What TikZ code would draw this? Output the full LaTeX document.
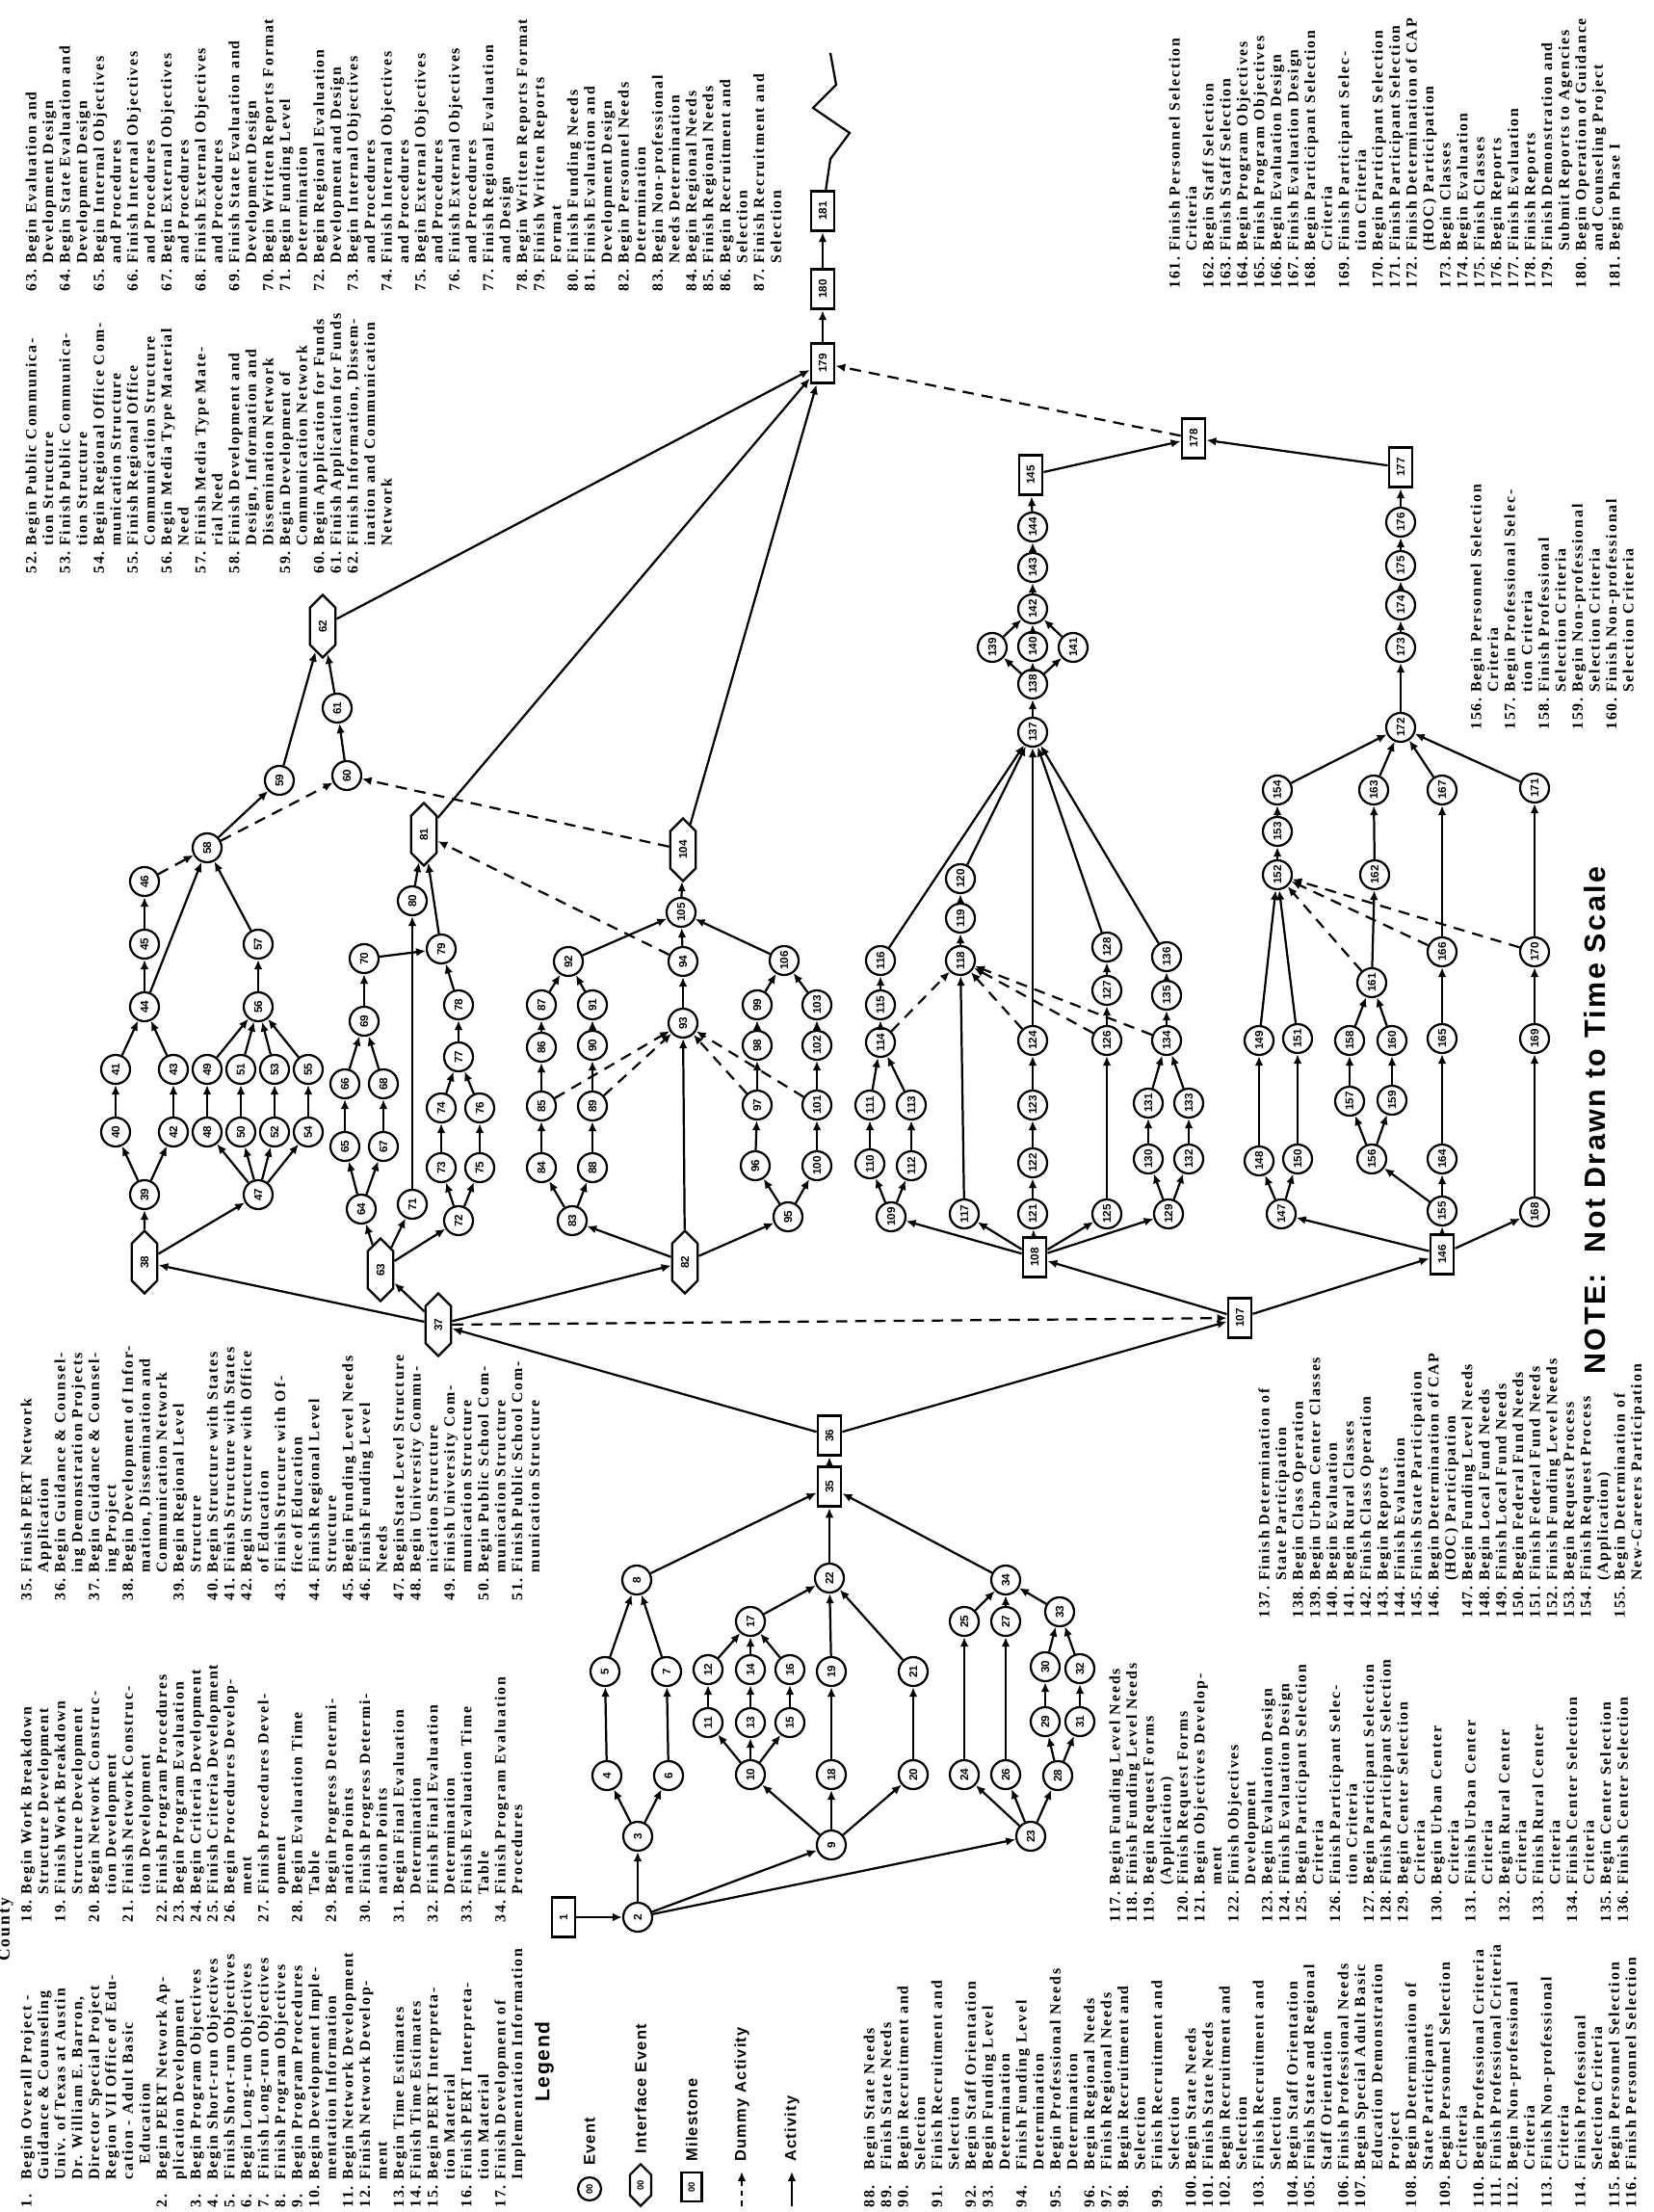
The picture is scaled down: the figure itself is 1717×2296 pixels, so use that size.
\documentclass[tikz,border=0pt]{standalone}
\usepackage{fontspec}
\setmainfont{Liberation Serif}
\setsansfont{Liberation Sans}
\newfontfamily\listfamily[LetterSpace=12]{Liberation Serif}
\newfontfamily\legfamily[LetterSpace=8]{Liberation Sans}
\usetikzlibrary{arrows.meta,positioning,shapes.symbols}

\tikzset{
  ev/.style={circle, draw, line width=1.9pt, minimum size=0.9cm, inner sep=0pt, rotate=90, font=\sffamily\bfseries\fontsize{10}{10}\selectfont},
  ifc/.style={signal, signal to=east and west, draw, line width=1.9pt, minimum width=1.95cm, minimum height=0.8cm, inner sep=0pt, rotate=90, font=\sffamily\bfseries\fontsize{10}{10}\selectfont},
  mile/.style={rectangle, draw, line width=2.4pt, minimum width=1.25cm, minimum height=0.72cm, inner sep=0pt, rotate=90, font=\sffamily\bfseries\fontsize{10}{10}\selectfont},
  act/.style={line width=1.9pt, -{Latex[length=3mm,width=2.6mm]}},
  dum/.style={act, dash pattern=on 10pt off 7pt},
  tlist/.style={rotate=90, anchor=north west, inner sep=0pt, font=\listfamily\bfseries\fontsize{13.5}{15}\selectfont},
  legtext/.style={rotate=90, anchor=west, inner sep=0pt, font=\legfamily\bfseries\fontsize{14}{14}\selectfont},
}

\begin{document}
\begin{tikzpicture}[x=0.03cm, y=-0.03cm]
\useasboundingbox (0,0) rectangle (1717,2296);

% ---------- lists of events ----------
\node[rotate=90, anchor=west, inner sep=0pt, font=\listfamily\bfseries\fontsize{15}{15}\selectfont] (hdr) at (6,2036) {County};

\node[tlist] (list1) at (20,2292) {\begin{tabular}{@{}l@{\hspace{0.35em}}l@{}}
1. & Begin Overall Project -\\
 & Guidance \& Counseling\\
 & Univ. of Texas at Austin\\
 & Dr. William E. Barron,\\
 & Director Special Project\\
 & Region VII Office of Edu-\\
 & cation - Adult Basic\\
 & \quad Education\\
2. & Begin PERT Network Ap-\\
 & plication Development\\
3. & Begin Program Objectives\\
4. & Begin Short-run Objectives\\
5. & Finish Short-run Objectives\\
6. & Begin Long-run Objectives\\
7. & Finish Long-run Objectives\\
8. & Finish Program Objectives\\
9. & Begin Program Procedures\\
10. & Begin Development Imple-\\
 & mentation Information\\
11. & Begin Network Development\\
12. & Finish Network Develop-\\
 & ment\\
13. & Begin Time Estimates\\
14. & Finish Time Estimates\\
15. & Begin PERT Interpreta-\\
 & tion Material\\
16. & Finish PERT Interpreta-\\
 & tion Material\\
17. & Finish Development of\\
 & Implementation Information
\end{tabular}};

\node[tlist] (list2) at (20,1996) {\begin{tabular}{@{}l@{\hspace{0.35em}}l@{}}
18. & Begin Work Breakdown\\
 & Structure Development\\
19. & Finish Work Breakdown\\
 & Structure Development\\
20. & Begin Network Construc-\\
 & tion Development\\
21. & Finish Network Construc-\\
 & tion Development\\
22. & Finish Program Procedures\\
23. & Begin Program Evaluation\\
24. & Begin Criteria Development\\
25. & Finish Criteria Development\\
26. & Begin Procedures Develop-\\
 & ment\\
27. & Finish Procedures Devel-\\
 & opment\\
28. & Begin Evaluation Time\\
 & Table\\
29. & Begin Progress Determi-\\
 & nation Points\\
30. & Finish Progress Determi-\\
 & nation Points\\
31. & Begin Final Evaluation\\
 & Determination\\
32. & Finish Final Evaluation\\
 & Determination\\
33. & Finish Evaluation Time\\
 & Table\\
34. & Finish Program Evaluation\\
 & Procedures
\end{tabular}};

\node[tlist] (list3) at (20,1662) {\begin{tabular}{@{}l@{\hspace{0.35em}}l@{}}
35. & Finish PERT Network\\
 & Application\\
36. & Begin Guidance \& Counsel-\\
 & ing Demonstration Projects\\
37. & Begin Guidance \& Counsel-\\
 & ing Project\\
38. & Begin Development of Infor-\\
 & mation, Dissemination and\\
 & Communication Network\\
39. & Begin Regional Level\\
 & Structure\\
40. & Begin Structure with States\\
41. & Finish Structure with States\\
42. & Begin Structure with Office\\
 & of Education\\
43. & Finish Strucure with Of-\\
 & fice of Education\\
44. & Finish Regional Level\\
 & Structure\\
45. & Begin Funding Level Needs\\
46. & Finish Funding Level\\
 & Needs\\
47. & BeginState Level Structure\\
48. & Begin University Commu-\\
 & nication Structure\\
49. & Finish University Com-\\
 & munication Structure\\
50. & Begin Public School Com-\\
 & munication Structure\\
51. & Finish Public School Com-\\
 & munication Structure
\end{tabular}};

\node[tlist] (list4) at (25,596) {\begin{tabular}{@{}l@{\hspace{0.35em}}l@{}}
52. & Begin Public Communica-\\
 & tion Structure\\
53. & Finish Public Communica-\\
 & tion Structure\\
54. & Begin Regional Office Com-\\
 & munication Structure\\
55. & Finish Regional Office\\
 & Communication Structure\\
56. & Begin Media Type Material\\
 & Need\\
57. & Finish Media Type Mate-\\
 & rial Need\\
58. & Finish Development and\\
 & Design, Information and\\
 & Dissemination Network\\
59. & Begin Development of\\
 & Communication Network\\
60. & Begin Application for Funds\\
61. & Finish Application for Funds\\
62. & Finish Information, Dissem-\\
 & ination and Communication\\
 & Network
\end{tabular}};

\node[tlist] (list5) at (25,303) {\begin{tabular}{@{}l@{\hspace{0.35em}}l@{}}
63. & Begin Evaluation and\\
 & Development Design\\
64. & Begin State Evaluation and\\
 & Development Design\\
65. & Begin Internal Objectives\\
 & and Procedures\\
66. & Finish Internal Objectives\\
 & and Procedures\\
67. & Begin External Objectives\\
 & and Procedures\\
68. & Finish External Objectives\\
 & and Procedures\\
69. & Finish State Evaluation and\\
 & Development Design\\
70. & Begin Written Reports Format\\
71. & Begin Funding Level\\
 & Determination\\
72. & Begin Regional Evaluation\\
 & Development and Design\\
73. & Begin Internal Objectives\\
 & and Procedures\\
74. & Finish Internal Objectives\\
 & and Procedures\\
75. & Begin External Objectives\\
 & and Procedures\\
76. & Finish External Objectives\\
 & and Procedures\\
77. & Finish Regional Evaluation\\
 & and Design\\
78. & Begin Written Reports Format\\
79. & Finish Written Reports\\
 & Format\\
80. & Finish Funding Needs\\
81. & Finish Evaluation and\\
 & Development Design\\
82. & Begin Personnel Needs\\
 & Determination\\
83. & Begin Non-professional\\
 & Needs Determination\\
84. & Begin Regional Needs\\
85. & Finish Regional Needs\\
86. & Begin Recruitment and\\
 & Selection\\
87. & Finish Recruitment and\\
 & Selection
\end{tabular}};

\node[tlist] (list6) at (895,2292) {\begin{tabular}{@{}l@{\hspace{0.35em}}l@{}}
88. & Begin State Needs\\
89. & Finish State Needs\\
90. & Begin Recruitment and\\
 & Selection\\
91. & Finish Recruitment and\\
 & Selection\\
92. & Begin Staff Orientation\\
93. & Begin Funding Level\\
 & Determination\\
94. & Finish Funding Level\\
 & Determination\\
95. & Begin Professional Needs\\
 & Determination\\
96. & Begin Regional Needs\\
97. & Finish Regional Needs\\
98. & Begin Recruitment and\\
 & Selection\\
99. & Finish Recruitment and\\
 & Selection\\
100. & Begin State Needs\\
101. & Finish State Needs\\
102. & Begin Recruitment and\\
 & Selection\\
103. & Finish Recruitment and\\
 & Selection\\
104. & Begin Staff Orientation\\
105. & Finish State and Regional\\
 & Staff Orientation\\
106. & Finish Professional Needs\\
107. & Begin Special Adult Basic\\
 & Education Demonstration\\
 & Project\\
108. & Begin Determination of\\
 & State Participants\\
109. & Begin Personnel Selection\\
 & Criteria\\
110. & Begin Professional Criteria\\
111. & Finish Professional Criteria\\
112. & Begin Non-professional\\
 & Criteria\\
113. & Finish Non-professional\\
 & Criteria\\
114. & Finish Professional\\
 & Selection Criteria\\
115. & Begin Personnel Selection\\
116. & Finish Personnel Selection
\end{tabular}};

\node[tlist] (list7) at (1150,1996) {\begin{tabular}{@{}l@{\hspace{0.35em}}l@{}}
117. & Begin Funding Level Needs\\
118. & Finish Funding Level Needs\\
119. & Begin Request Forms\\
 & (Application)\\
120. & Finish Request Forms\\
121. & Begin Objectives Develop-\\
 & ment\\
122. & Finish Objectives\\
 & Development\\
123. & Begin Evaluation Design\\
124. & Finish Evaluation Design\\
125. & Begin Participant Selection\\
 & Criteria\\
126. & Finish Participant Selec-\\
 & tion Criteria\\
127. & Begin Participant Selection\\
128. & Finish Participant Selection\\
129. & Begin Center Selection\\
 & Criteria\\
130. & Begin Urban Center\\
 & Criteria\\
131. & Finish Urban Center\\
 & Criteria\\
132. & Begin Rural Center\\
 & Criteria\\
133. & Finish Rural Center\\
 & Criteria\\
134. & Finish Center Selection\\
 & Criteria\\
135. & Begin Center Selection\\
136. & Finish Center Selection
\end{tabular}};

\node[tlist] (list8) at (1305,1680) {\begin{tabular}{@{}l@{\hspace{0.35em}}l@{}}
137. & Finish Determination of\\
 & State Participation\\
138. & Begin Class Operation\\
139. & Begin Urban Center Classes\\
140. & Begin Evaluation\\
141. & Begin Rural Classes\\
142. & Finish Class Operation\\
143. & Begin Reports\\
144. & Finish Evaluation\\
145. & Finish State Participation\\
146. & Begin Determination of CAP\\
 & (HOC) Participation\\
147. & Begin Funding Level Needs\\
148. & Begin Local Fund Needs\\
149. & Finish Local Fund Needs\\
150. & Begin Federal Fund Needs\\
151. & Finish Federal Fund Needs\\
152. & Finish Funding Level Needs\\
153. & Begin Request Process\\
154. & Finish Request Process\\
 & (Application)\\
155. & Begin Determination of\\
 & New-Careers Participation
\end{tabular}};

\node[tlist] (list9) at (1525,758) {\begin{tabular}{@{}l@{\hspace{0.35em}}l@{}}
156. & Begin Personnel Selection\\
 & Criteria\\
157. & Begin Professional Selec-\\
 & tion Criteria\\
158. & Finish Professional\\
 & Selection Criteria\\
159. & Begin Non-professional\\
 & Selection Criteria\\
160. & Finish Non-professional\\
 & Selection Criteria
\end{tabular}};

\node[tlist] (list10) at (1212,300) {\begin{tabular}{@{}l@{\hspace{0.35em}}l@{}}
161. & Finish Personnel Selection\\
 & Criteria\\
162. & Begin Staff Selection\\
163. & Finish Staff Selection\\
164. & Begin Program Objectives\\
165. & Finish Program Objectives\\
166. & Begin Evaluation Design\\
167. & Finish Evaluation Design\\
168. & Begin Participant Selection\\
 & Criteria\\
169. & Finish Participant Selec-\\
 & tion Criteria\\
170. & Begin Participant Selection\\
171. & Finish Participant Selection\\
172. & Finish Determination of CAP\\
 & (HOC) Participation\\
173. & Begin Classes\\
174. & Begin Evaluation\\
175. & Finish Classes\\
176. & Begin Reports\\
177. & Finish Evaluation\\
178. & Finish Reports\\
179. & Finish Demonstration and\\
 & Submit Reports to Agencies\\
180. & Begin Operation of Guidance\\
 & and Counseling Project\\
181. & Begin Phase I
\end{tabular}};

% ---------- legend ----------
\node[rotate=90, inner sep=0pt, font=\legfamily\bfseries\fontsize{18}{18}\selectfont] (leg) at (565,2140) {Legend};
\node[ev, minimum size=0.72cm, font=\sffamily\bfseries\fontsize{8}{8}\selectfont] (lgev) at (612,2272) {00};
\node[legtext] (lgevt) at (612,2248) {Event};
\node[ifc, minimum width=1.3cm, minimum height=0.66cm, font=\sffamily\bfseries\fontsize{8}{8}\selectfont] (lgif) at (665,2268) {00};
\node[legtext] (lgift) at (665,2236) {Interface Event};
\node[mile, minimum width=0.9cm, minimum height=0.62cm, font=\sffamily\bfseries\fontsize{8}{8}\selectfont] (lgms) at (718,2270) {00};
\node[legtext] (lgmst) at (718,2244) {Milestone};
\coordinate (lgd0) at (770,2290);
\coordinate (lgd1) at (770,2254);
\draw[dum, dash pattern=on 5pt off 4pt] (lgd0) -- (lgd1);
\node[legtext] (lgdt) at (770,2244) {Dummy Activity};
\coordinate (lga0) at (822,2290);
\coordinate (lga1) at (822,2254);
\draw[act] (lga0) -- (lga1);
\node[legtext] (lgat) at (822,2244) {Activity};

\node[rotate=90, inner sep=0pt, font=\legfamily\bfseries\fontsize{26}{26}\selectfont] (note) at (1656,1163) {NOTE:\ \ Not Drawn to Time Scale};

% ---------- events: first block ----------
\node[mile] (e1) at (585,1990) {1};
\node[ev] (e2) at (662,1990) {2};
\node[ev] (e3) at (662,1906) {3};
\node[ev] (e4) at (630,1843) {4};
\node[ev] (e5) at (628,1735) {5};
\node[ev] (e6) at (694,1843) {6};
\node[ev] (e7) at (692,1735) {7};
\node[ev] (e8) at (661,1640) {8};
\node[ev] (e9) at (863,1915) {9};
\node[ev] (e10) at (779,1842) {10};
\node[ev] (e11) at (735,1788) {11};
\node[ev] (e12) at (735,1733) {12};
\node[ev] (e13) at (779,1788) {13};
\node[ev] (e14) at (779,1733) {14};
\node[ev] (e15) at (820,1788) {15};
\node[ev] (e16) at (820,1733) {16};
\node[ev] (e17) at (779,1683) {17};
\node[ev] (e18) at (863,1842) {18};
\node[ev] (e19) at (863,1735) {19};
\node[ev] (e20) at (948,1842) {20};
\node[ev] (e21) at (948,1735) {21};
\node[ev] (e22) at (861,1638) {22};
\node[ev] (e23) at (1070,1906) {23};
\node[ev] (e24) at (1001,1842) {24};
\node[ev] (e25) at (1001,1683) {25};
\node[ev] (e26) at (1044,1842) {26};
\node[ev] (e27) at (1044,1683) {27};
\node[ev] (e28) at (1098,1843) {28};
\node[ev] (e29) at (1085,1787) {29};
\node[ev] (e30) at (1085,1730) {30};
\node[ev] (e31) at (1121,1787) {31};
\node[ev] (e32) at (1121,1732) {32};
\node[ev] (e33) at (1100,1673) {33};
\node[ev] (e34) at (1044,1640) {34};
\node[mile] (e35) at (861,1543) {35};
\node[mile] (e36) at (861,1490) {36};
\node[ifc] (e37) at (455,1375) {37};
\node[mile] (e107) at (1287,1368) {107};

% ---------- events: information network ----------
\node[ifc] (e38) at (150,1310) {38};
\node[ev] (e39) at (150,1240) {39};
\node[ev] (e40) at (120,1175) {40};
\node[ev] (e41) at (120,1110) {41};
\node[ev] (e42) at (180,1175) {42};
\node[ev] (e43) at (180,1110) {43};
\node[ev] (e44) at (150,1045) {44};
\node[ev] (e45) at (150,980) {45};
\node[ev] (e46) at (150,915) {46};
\node[ev] (e47) at (268,1240) {47};
\node[ev] (e48) at (215,1175) {48};
\node[ev] (e49) at (215,1110) {49};
\node[ev] (e50) at (250,1175) {50};
\node[ev] (e51) at (250,1110) {51};
\node[ev] (e52) at (285,1175) {52};
\node[ev] (e53) at (285,1110) {53};
\node[ev] (e54) at (320,1175) {54};
\node[ev] (e55) at (320,1110) {55};
\node[ev] (e56) at (268,1045) {56};
\node[ev] (e57) at (268,980) {57};
\node[ev] (e58) at (215,880) {58};
\node[ev] (e59) at (290,810) {59};
\node[ev] (e60) at (360,805) {60};
\node[ev] (e61) at (350,735) {61};
\node[ifc] (e62) at (335,650) {62};

% ---------- events: evaluation design ----------
\node[ifc] (e63) at (395,1318) {63};
\node[ev] (e64) at (375,1255) {64};
\node[ev] (e65) at (358,1190) {65};
\node[ev] (e66) at (358,1125) {66};
\node[ev] (e67) at (398,1190) {67};
\node[ev] (e68) at (398,1125) {68};
\node[ev] (e69) at (378,1060) {69};
\node[ev] (e70) at (378,995) {70};
\node[ev] (e71) at (428,1250) {71};
\node[ev] (e72) at (476,1267) {72};
\node[ev] (e73) at (458,1212) {73};
\node[ev] (e74) at (458,1150) {74};
\node[ev] (e75) at (498,1212) {75};
\node[ev] (e76) at (498,1150) {76};
\node[ev] (e77) at (476,1097) {77};
\node[ev] (e78) at (476,1043) {78};
\node[ev] (e79) at (458,985) {79};
\node[ev] (e80) at (428,935) {80};
\node[ifc] (e81) at (440,866) {81};

% ---------- events: personnel needs ----------
\node[ifc] (e82) at (711,1310) {82};
\node[ev] (e83) at (594,1267) {83};
\node[ev] (e84) at (562,1212) {84};
\node[ev] (e85) at (562,1148) {85};
\node[ev] (e86) at (562,1087) {86};
\node[ev] (e87) at (562,1043) {87};
\node[ev] (e88) at (615,1212) {88};
\node[ev] (e89) at (615,1148) {89};
\node[ev] (e90) at (615,1085) {90};
\node[ev] (e91) at (615,1043) {91};
\node[ev] (e92) at (590,998) {92};
\node[ev] (e93) at (709,1062) {93};
\node[ev] (e94) at (709,998) {94};
\node[ev] (e95) at (818,1263) {95};
\node[ev] (e96) at (784,1210) {96};
\node[ev] (e97) at (786,1147) {97};
\node[ev] (e98) at (786,1085) {98};
\node[ev] (e99) at (786,1043) {99};
\node[ev] (e100) at (848,1210) {100};
\node[ev] (e101) at (848,1147) {101};
\node[ev] (e102) at (848,1085) {102};
\node[ev] (e103) at (848,1043) {103};
\node[ifc] (e104) at (709,882) {104};
\node[ev] (e105) at (707,947) {105};
\node[ev] (e106) at (814,997) {106};

% ---------- events: state participation ----------
\node[mile] (e108) at (1074,1305) {108};
\node[ev] (e109) at (925,1263) {109};
\node[ev] (e110) at (903,1208) {110};
\node[ev] (e111) at (903,1147) {111};
\node[ev] (e112) at (946,1210) {112};
\node[ev] (e113) at (946,1147) {113};
\node[ev] (e114) at (914,1082) {114};
\node[ev] (e115) at (914,1043) {115};
\node[ev] (e116) at (914,997) {116};
\node[ev] (e117) at (1001,1260) {117};
\node[ev] (e118) at (997,997) {118};
\node[ev] (e119) at (997,953) {119};
\node[ev] (e120) at (997,912) {120};
\node[ev] (e121) at (1072,1260) {121};
\node[ev] (e122) at (1072,1207) {122};
\node[ev] (e123) at (1072,1147) {123};
\node[ev] (e124) at (1072,1080) {124};
\node[ev] (e125) at (1149,1260) {125};
\node[ev] (e126) at (1149,1080) {126};
\node[ev] (e127) at (1149,1028) {127};
\node[ev] (e128) at (1149,983) {128};
\node[ev] (e129) at (1213,1260) {129};
\node[ev] (e130) at (1192,1203) {130};
\node[ev] (e131) at (1192,1145) {131};
\node[ev] (e132) at (1234,1203) {132};
\node[ev] (e133) at (1234,1145) {133};
\node[ev] (e134) at (1211,1080) {134};
\node[ev] (e135) at (1211,1033) {135};
\node[ev] (e136) at (1211,993) {136};
\node[ev] (e137) at (1072,760) {137};
\node[ev] (e138) at (1072,710) {138};
\node[ev] (e139) at (1030,672) {139};
\node[ev] (e140) at (1072,671) {140};
\node[ev] (e141) at (1114,672) {141};
\node[ev] (e142) at (1072,632) {142};
\node[ev] (e143) at (1072,589) {143};
\node[ev] (e144) at (1072,547) {144};
\node[mile] (e145) at (1070,493) {145};

% ---------- events: CAP participation ----------
\node[mile] (e146) at (1497,1302) {146};
\node[ev] (e147) at (1330,1260) {147};
\node[ev] (e148) at (1307,1205) {148};
\node[ev] (e149) at (1307,1080) {149};
\node[ev] (e150) at (1347,1203) {150};
\node[ev] (e151) at (1347,1078) {151};
\node[ev] (e152) at (1326,908) {152};
\node[ev] (e153) at (1326,863) {153};
\node[ev] (e154) at (1326,820) {154};
\node[ev] (e155) at (1497,1257) {155};
\node[ev] (e156) at (1424,1203) {156};
\node[ev] (e157) at (1401,1143) {157};
\node[ev] (e158) at (1401,1080) {158};
\node[ev] (e159) at (1445,1142) {159};
\node[ev] (e160) at (1445,1080) {160};
\node[ev] (e161) at (1424,1020) {161};
\node[ev] (e162) at (1427,908) {162};
\node[ev] (e163) at (1426,820) {163};
\node[ev] (e164) at (1497,1203) {164};
\node[ev] (e165) at (1497,1078) {165};
\node[ev] (e166) at (1497,988) {166};
\node[ev] (e167) at (1497,820) {167};
\node[ev] (e168) at (1593,1258) {168};
\node[ev] (e169) at (1593,1078) {169};
\node[ev] (e170) at (1593,988) {170};
\node[ev] (e171) at (1593,818) {171};
\node[ev] (e172) at (1454,755) {172};
\node[ev] (e173) at (1454,672) {173};
\node[ev] (e174) at (1454,628) {174};
\node[ev] (e175) at (1454,587) {175};
\node[ev] (e176) at (1454,542) {176};
\node[mile] (e177) at (1454,485) {177};
\node[mile] (e178) at (1239,455) {178};
\node[mile] (e179) at (854,377) {179};
\node[mile] (e180) at (854,300) {180};
\node[mile] (e181) at (854,219) {181};
\coordinate (brk) at (862,55);

% ---------- activities ----------
\draw[act] (e1) -- (e2);
\draw[act] (e2) -- (e3);
\draw[act] (e2) -- (e9);
\draw[act] (e2) -- (e23);
\draw[act] (e3) -- (e4);
\draw[act] (e4) -- (e5);
\draw[act] (e5) -- (e8);
\draw[act] (e3) -- (e6);
\draw[act] (e6) -- (e7);
\draw[act] (e7) -- (e8);
\draw[act] (e8) -- (e35);
\draw[act] (e9) -- (e10);
\draw[act] (e10) -- (e11);
\draw[act] (e11) -- (e12);
\draw[act] (e12) -- (e17);
\draw[act] (e10) -- (e13);
\draw[act] (e13) -- (e14);
\draw[act] (e14) -- (e17);
\draw[act] (e10) -- (e15);
\draw[act] (e15) -- (e16);
\draw[act] (e16) -- (e17);
\draw[act] (e17) -- (e22);
\draw[act] (e9) -- (e18);
\draw[act] (e18) -- (e19);
\draw[act] (e19) -- (e22);
\draw[act] (e9) -- (e20);
\draw[act] (e20) -- (e21);
\draw[act] (e21) -- (e22);
\draw[act] (e22) -- (e35);
\draw[act] (e23) -- (e24);
\draw[act] (e24) -- (e25);
\draw[act] (e25) -- (e34);
\draw[act] (e23) -- (e26);
\draw[act] (e26) -- (e27);
\draw[act] (e27) -- (e34);
\draw[act] (e23) -- (e28);
\draw[act] (e28) -- (e29);
\draw[act] (e29) -- (e30);
\draw[act] (e30) -- (e33);
\draw[act] (e28) -- (e31);
\draw[act] (e31) -- (e32);
\draw[act] (e32) -- (e33);
\draw[act] (e33) -- (e34);
\draw[act] (e34) -- (e35);
\draw[act] (e35) -- (e36);
\draw[act] (e36) -- (e37);
\draw[act] (e36) -- (e107);
\draw[dum] (e37) -- (e107);
\draw[act] (e37) -- (e38);
\draw[act] (e37) -- (e63);
\draw[act] (e37) -- (e82);

\draw[act] (e38) -- (e39);
\draw[act] (e39) -- (e40);
\draw[act] (e40) -- (e41);
\draw[act] (e41) -- (e44);
\draw[act] (e39) -- (e42);
\draw[act] (e42) -- (e43);
\draw[act] (e43) -- (e44);
\draw[act] (e44) -- (e45);
\draw[act] (e45) -- (e46);
\draw[act] (e44) -- (e58);
\draw[dum] (e46) -- (e58);
\draw[act] (e38) -- (e47);
\draw[act] (e47) -- (e48);
\draw[act] (e48) -- (e49);
\draw[act] (e49) -- (e56);
\draw[act] (e47) -- (e50);
\draw[act] (e50) -- (e51);
\draw[act] (e51) -- (e56);
\draw[act] (e47) -- (e52);
\draw[act] (e52) -- (e53);
\draw[act] (e53) -- (e56);
\draw[act] (e47) -- (e54);
\draw[act] (e54) -- (e55);
\draw[act] (e55) -- (e56);
\draw[act] (e56) -- (e57);
\draw[act] (e57) -- (e58);
\draw[act] (e58) -- (e59);
\draw[act] (e59) -- (e62);
\draw[dum] (e58) -- (e60);
\draw[act] (e60) -- (e61);
\draw[act] (e61) -- (e62);
\draw[act] (e62) -- (e179);
\draw[dum] (e104) -- (e60);

\draw[act] (e63) -- (e64);
\draw[act] (e64) -- (e65);
\draw[act] (e65) -- (e66);
\draw[act] (e66) -- (e69);
\draw[act] (e64) -- (e67);
\draw[act] (e67) -- (e68);
\draw[act] (e68) -- (e69);
\draw[act] (e69) -- (e70);
\draw[act] (e70) -- (e79);
\draw[act] (e63) -- (e71);
\draw[act] (e71) -- (e80);
\draw[act] (e63) -- (e72);
\draw[act] (e72) -- (e73);
\draw[act] (e73) -- (e74);
\draw[act] (e74) -- (e77);
\draw[act] (e72) -- (e75);
\draw[act] (e75) -- (e76);
\draw[act] (e76) -- (e77);
\draw[act] (e77) -- (e78);
\draw[act] (e78) -- (e79);
\draw[act] (e79) -- (e81);
\draw[act] (e80) -- (e81);
\draw[act] (e81) -- (e179);
\draw[dum] (e94) -- (e81);

\draw[act] (e82) -- (e83);
\draw[act] (e83) -- (e84);
\draw[act] (e84) -- (e85);
\draw[act] (e85) -- (e86);
\draw[act] (e86) -- (e87);
\draw[act] (e87) -- (e92);
\draw[act] (e83) -- (e88);
\draw[act] (e88) -- (e89);
\draw[act] (e89) -- (e90);
\draw[act] (e90) -- (e91);
\draw[act] (e91) -- (e92);
\draw[act] (e92) -- (e105);
\draw[act] (e82) -- (e95);
\draw[act] (e95) -- (e96);
\draw[act] (e96) -- (e97);
\draw[act] (e97) -- (e98);
\draw[act] (e98) -- (e99);
\draw[act] (e99) -- (e106);
\draw[act] (e95) -- (e100);
\draw[act] (e100) -- (e101);
\draw[act] (e101) -- (e102);
\draw[act] (e102) -- (e103);
\draw[act] (e103) -- (e106);
\draw[act] (e106) -- (e105);
\draw[act] (e82) -- (e93);
\draw[act] (e93) -- (e94);
\draw[act] (e94) -- (e105);
\draw[act] (e105) -- (e104);
\draw[act] (e104) -- (e179);
\draw[dum] (e85) -- (e93);
\draw[dum] (e89) -- (e93);
\draw[dum] (e97) -- (e93);
\draw[dum] (e101) -- (e93);

\draw[act] (e107) -- (e108);
\draw[act] (e107) -- (e146);
\draw[act] (e108) -- (e109);
\draw[act] (e109) -- (e110);
\draw[act] (e110) -- (e111);
\draw[act] (e111) -- (e114);
\draw[act] (e109) -- (e112);
\draw[act] (e112) -- (e113);
\draw[act] (e113) -- (e114);
\draw[act] (e114) -- (e115);
\draw[act] (e115) -- (e116);
\draw[act] (e116) -- (e137);
\draw[act] (e108) -- (e117);
\draw[act] (e117) -- (e118);
\draw[act] (e118) -- (e119);
\draw[act] (e119) -- (e120);
\draw[act] (e120) -- (e137);
\draw[act] (e108) -- (e121);
\draw[act] (e121) -- (e122);
\draw[act] (e122) -- (e123);
\draw[act] (e123) -- (e124);
\draw[act] (e124) -- (e137);
\draw[act] (e108) -- (e125);
\draw[act] (e125) -- (e126);
\draw[act] (e126) -- (e127);
\draw[act] (e127) -- (e128);
\draw[act] (e128) -- (e137);
\draw[act] (e108) -- (e129);
\draw[act] (e129) -- (e130);
\draw[act] (e130) -- (e131);
\draw[act] (e131) -- (e134);
\draw[act] (e129) -- (e132);
\draw[act] (e132) -- (e133);
\draw[act] (e133) -- (e134);
\draw[act] (e134) -- (e135);
\draw[act] (e135) -- (e136);
\draw[act] (e136) -- (e137);
\draw[dum] (e114) -- (e118);
\draw[dum] (e124) -- (e118);
\draw[dum] (e126) -- (e118);
\draw[dum] (e134) -- (e118);
\draw[act] (e137) -- (e138);
\draw[act] (e138) -- (e139);
\draw[act] (e138) -- (e140);
\draw[act] (e138) -- (e141);
\draw[act] (e139) -- (e142);
\draw[act] (e140) -- (e142);
\draw[act] (e141) -- (e142);
\draw[act] (e142) -- (e143);
\draw[act] (e143) -- (e144);
\draw[act] (e144) -- (e145);
\draw[act] (e145) -- (e178);

\draw[act] (e146) -- (e147);
\draw[act] (e147) -- (e148);
\draw[act] (e148) -- (e149);
\draw[act] (e149) -- (e152);
\draw[act] (e147) -- (e150);
\draw[act] (e150) -- (e151);
\draw[act] (e151) -- (e152);
\draw[act] (e152) -- (e153);
\draw[act] (e153) -- (e154);
\draw[act] (e154) -- (e172);
\draw[act] (e146) -- (e155);
\draw[act] (e155) -- (e156);
\draw[act] (e156) -- (e157);
\draw[act] (e157) -- (e158);
\draw[act] (e158) -- (e161);
\draw[act] (e156) -- (e159);
\draw[act] (e159) -- (e160);
\draw[act] (e160) -- (e161);
\draw[act] (e161) -- (e162);
\draw[act] (e162) -- (e163);
\draw[act] (e163) -- (e172);
\draw[act] (e155) -- (e164);
\draw[act] (e164) -- (e165);
\draw[act] (e165) -- (e166);
\draw[act] (e166) -- (e167);
\draw[act] (e167) -- (e172);
\draw[act] (e146) -- (e168);
\draw[act] (e168) -- (e169);
\draw[act] (e169) -- (e170);
\draw[act] (e170) -- (e171);
\draw[act] (e171) -- (e172);
\draw[dum] (e161) -- (e152);
\draw[dum] (e166) -- (e152);
\draw[dum] (e170) -- (e152);
\draw[act] (e172) -- (e173);
\draw[act] (e173) -- (e174);
\draw[act] (e174) -- (e175);
\draw[act] (e175) -- (e176);
\draw[act] (e176) -- (e177);
\draw[act] (e177) -- (e178);
\draw[dum] (e178) -- (e179);
\draw[act] (e179) -- (e180);
\draw[act] (e180) -- (e181);
\draw[line width=1.9pt] (e181) -- (862,165) -- (882,138) -- (844,112) -- (868,88) -- (brk);
\end{tikzpicture}
\end{document}
